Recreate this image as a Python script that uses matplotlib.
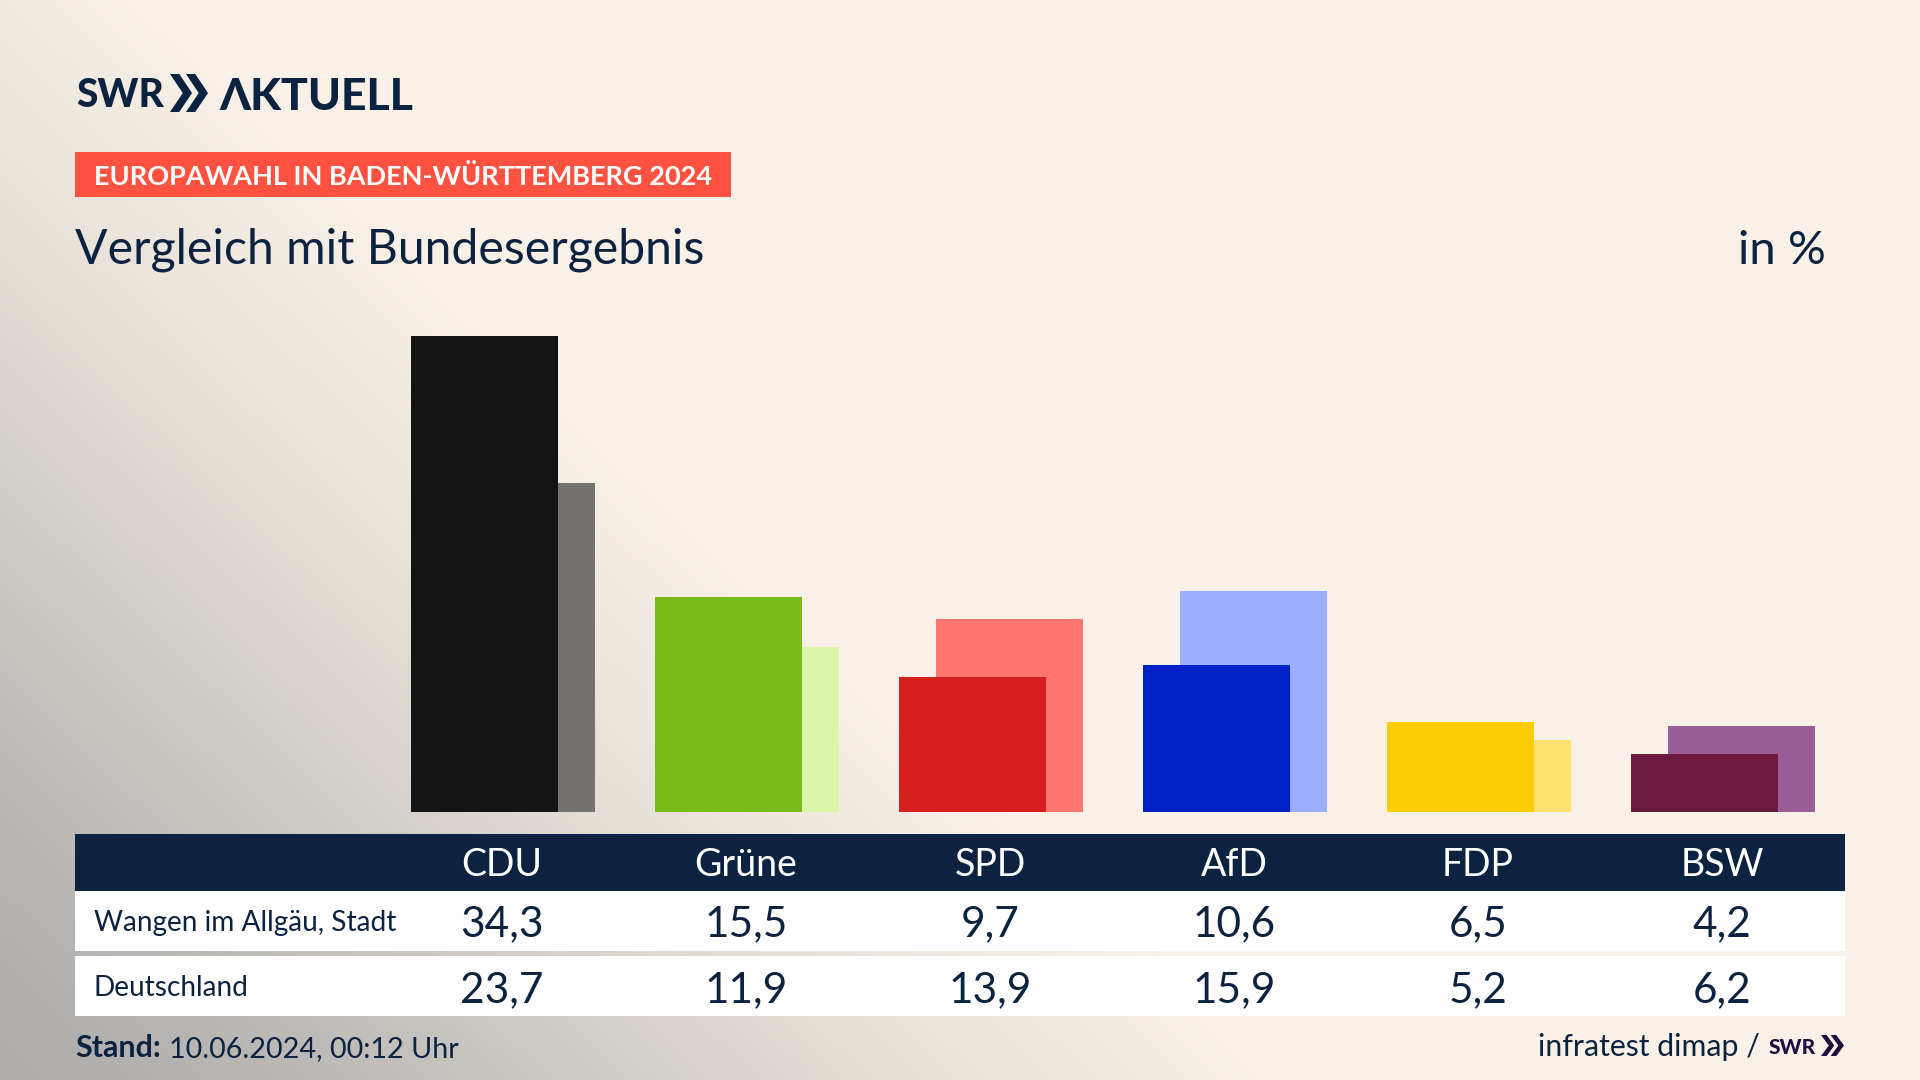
import matplotlib.pyplot as plt
import numpy as np
from matplotlib.patches import Polygon, Rectangle

# Data
parties = ["CDU", "Grüne", "SPD", "AfD", "FDP", "BSW"]
region_name = "Wangen im Allgäu, Stadt"
national_name = "Deutschland"
region_values = [34.3, 15.5, 9.7, 10.6, 6.5, 4.2]
national_values = [23.7, 11.9, 13.9, 15.9, 5.2, 6.2]
front_colors = ["#141414", "#79BC1A", "#D71F1D", "#0021C8", "#FFCC0A", "#6B1A3E"]
back_colors = ["#737270", "#D8F5A8", "#FF7570", "#9DAEFF", "#FFE270", "#9A5E96"]

NAVY = "#0B2240"
FONT = "Lato"


def fmt(value):
    return f"{value:.1f}".replace(".", ",")


def background():
    # cream with a grey diagonal fade out of the lower left corner
    h, w = 270, 480
    yy, xx = np.mgrid[0:h, 0:w]
    d = (xx / w) / 0.67 + (1 - yy / h) / 1.13
    t = np.interp(d, [0, 0.28, 0.58, 0.78, 1.0], [1, 0.77, 0.40, 0.17, 0])
    cream = np.array([249, 241, 231]) / 255
    grey = np.array([172, 171, 170]) / 255
    return cream + (grey - cream) * t[..., None]


def chevrons(ax, x, y, w, h, color):
    # the two arrows of the SWR logo
    cw = w * 0.58
    for off in (0, w - cw):
        ax.add_patch(Polygon(
            [(x + off, y), (x + off + cw * 0.42, y), (x + off + cw, y + h / 2),
             (x + off + cw * 0.42, y + h), (x + off, y + h), (x + off + cw * 0.58, y + h / 2)],
            closed=True, color=color, lw=0))


def draw_bars(fig):
    # one category step is 244 px, axes run from px 381 to 1845
    ax = fig.add_axes([381 / 1920, (1080 - 812) / 1080, 1464 / 1920, 500 / 1080])
    ax.patch.set_alpha(0)
    ax.set_xlim(-0.5, 5.5)
    ax.set_ylim(0, 36)
    ax.axis("off")
    x = np.arange(len(parties))
    width = 147 / 244
    shift = 18.5 / 244
    ax.bar(x + shift, national_values, width, color=back_colors, zorder=1)
    ax.bar(x - shift, region_values, width, color=front_colors, zorder=2)


def draw_table(ax):
    ax.add_patch(Rectangle((75, 834), 1770, 57, color=NAVY, lw=0))
    ax.add_patch(Rectangle((75, 891), 1770, 60, color="white", lw=0))
    ax.add_patch(Rectangle((75, 956), 1770, 60, color="white", lw=0))

    for i, party in enumerate(parties):
        cx = 502 + 244 * i
        ax.text(cx, 876, party, color="white", fontsize=27, ha="center", va="baseline", family=FONT)
        ax.text(cx, 936, fmt(region_values[i]), color=NAVY, fontsize=30.5, ha="center", va="baseline", family=FONT)
        ax.text(cx, 1002, fmt(national_values[i]), color=NAVY, fontsize=30.5, ha="center", va="baseline", family=FONT)

    ax.text(94, 931, region_name, color=NAVY, fontsize=20.2, va="baseline", family=FONT)
    ax.text(94, 996, national_name, color=NAVY, fontsize=20.2, va="baseline", family=FONT)


def main():
    fig = plt.figure(figsize=(19.2, 10.8), dpi=100)
    ax = fig.add_axes([0, 0, 1, 1])
    ax.imshow(background(), extent=(0, 1920, 1080, 0), aspect="auto", interpolation="bilinear")
    ax.set_xlim(0, 1920)
    ax.set_ylim(1080, 0)
    ax.axis("off")

    # header
    ax.text(76, 107, "SWR", color=NAVY, fontsize=28, fontweight="black", va="baseline", family=FONT)
    chevrons(ax, 170, 74, 38, 38, NAVY)
    ax.text(219, 110, "ΛKTUELL", color=NAVY, fontsize=32, fontweight="black", va="baseline", family=FONT)

    ax.add_patch(Rectangle((75, 152), 656, 45, color="#FF5240", lw=0))
    ax.text(94, 185, "EUROPAWAHL IN BADEN-WÜRTTEMBERG 2024", color="white", fontsize=19.55,
            fontweight="bold", va="baseline", family=FONT)
    ax.text(75, 264, "Vergleich mit Bundesergebnis", color=NAVY, fontsize=34.7, va="baseline", family=FONT)
    ax.text(1826, 264, "in %", color=NAVY, fontsize=34, ha="right", va="baseline", family=FONT)

    draw_table(ax)
    draw_bars(fig)

    # footer
    ax.text(75, 1057, "Stand:", color=NAVY, fontsize=22, fontweight="bold", va="baseline", family=FONT)
    ax.text(169, 1057, "10.06.2024, 00:12 Uhr", color=NAVY, fontsize=20.7, va="baseline", family=FONT)
    ax.text(1760, 1056, "infratest dimap /", color=NAVY, fontsize=21.8, ha="right", va="baseline", family=FONT)
    ax.text(1769, 1054, "SWR", color="#1F0F3F", fontsize=15, fontweight="black", va="baseline", family=FONT)
    chevrons(ax, 1821, 1035, 23, 21, "#1F0F3F")

    fig.savefig("out.png", dpi=100)


if __name__ == "__main__":
    main()
